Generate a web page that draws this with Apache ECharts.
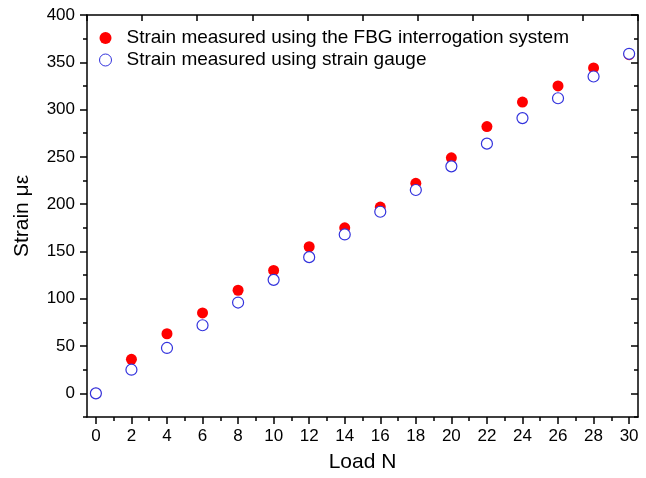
<!DOCTYPE html>
<html>
<head>
<meta charset="utf-8">
<script src="https://cdn.jsdelivr.net/npm/echarts@6/dist/echarts.min.js"></script>
<style>html,body{margin:0;padding:0;background:#fff;}#c{width:646px;height:478px;}</style>
</head>
<body>
<div id="c"></div>
<script>
const loads = [0, 2, 4, 6, 8, 10, 12, 14, 16, 18, 20, 22, 24, 26, 28, 30];
const fbgStrain = [0, 36, 63, 85, 109, 130, 155, 175, 197, 222, 249, 282, 308, 325, 344, 358];
const gaugeStrain = [0, 25, 48, 72, 96, 120, 144, 168, 192, 215, 240, 264, 291, 312, 335, 359];
const xMajorTicks = [0, 2, 4, 6, 8, 10, 12, 14, 16, 18, 20, 22, 24, 26, 28, 30];
const xMinorTicks = [1, 3, 5, 7, 9, 11, 13, 15, 17, 19, 21, 23, 25, 27, 29];
const yMajorTicks = [0, 50, 100, 150, 200, 250, 300, 350, 400];
const yMinorTicks = [-25, 25, 75, 125, 175, 225, 275, 325, 375];
const seriesNames = ['Strain measured using the FBG interrogation system', 'Strain measured using strain gauge'];

const FONT = 'Liberation Sans, Arial, sans-serif';
const lineStyle = { color: '#000', width: 1.5 };

const chart = echarts.init(document.getElementById('c'));
chart.setOption({
  animation: false,
  backgroundColor: '#fff',
  grid: { left: 87, right: 8, top: 15, bottom: 57, containLabel: false },
  legend: {
    left: 94, top: 23, orient: 'vertical', itemWidth: 12, itemHeight: 12, itemGap: 2,
    textStyle: { fontFamily: FONT, fontSize: 19, color: '#000', lineHeight: 20, padding: [0, 0, 0, 10] },
    data: [
      { name: seriesNames[0], icon: 'circle' },
      { name: seriesNames[1], icon: 'circle', itemStyle: { borderWidth: 1 } }
    ]
  },
  xAxis: [
    {
      type: 'value', position: 'bottom', min: -0.5, max: 30.5,
      axisLine: { show: true, onZero: false, lineStyle: lineStyle },
      axisTick: { show: true, inside: false, length: 7, lineStyle: lineStyle, customValues: xMajorTicks },
      axisLabel: { show: true, margin: 11, fontFamily: FONT, fontSize: 17, color: '#000', customValues: xMajorTicks },
      splitLine: { show: false },
      name: 'Load N', nameLocation: 'middle', nameGap: 35,
      nameTextStyle: { fontFamily: FONT, fontSize: 21, color: '#000' }
    },
    {
      type: 'value', position: 'bottom', min: -0.5, max: 30.5,
      axisLine: { show: false, onZero: false },
      axisTick: { show: true, inside: false, length: 4, lineStyle: lineStyle, customValues: xMinorTicks },
      axisLabel: { show: false },
      splitLine: { show: false }
    },
    {
      type: 'value', position: 'top', min: 0, max: 10, interval: 1,
      axisLine: { show: true, onZero: false, lineStyle: lineStyle },
      axisTick: { show: true, inside: true, length: 6, lineStyle: lineStyle },
      axisLabel: { show: false },
      splitLine: { show: false }
    }
  ],
  yAxis: [
    {
      type: 'value', position: 'left', min: -25, max: 400,
      axisLine: { show: true, onZero: false, lineStyle: lineStyle },
      axisTick: { show: true, inside: false, length: 7, lineStyle: lineStyle, customValues: yMajorTicks },
      axisLabel: { show: true, margin: 12, fontFamily: FONT, fontSize: 17, color: '#000', customValues: yMajorTicks },
      splitLine: { show: false },
      name: 'Strain \u03bc\u03b5', nameLocation: 'middle', nameGap: 54,
      nameTextStyle: { fontFamily: FONT, fontSize: 21, color: '#000' }
    },
    {
      type: 'value', position: 'left', min: -25, max: 400,
      axisLine: { show: false, onZero: false },
      axisTick: { show: true, inside: false, length: 4, lineStyle: lineStyle, customValues: yMinorTicks },
      axisLabel: { show: false },
      splitLine: { show: false }
    },
    {
      type: 'value', position: 'right', min: -25, max: 400,
      axisLine: { show: true, onZero: false, lineStyle: lineStyle },
      axisTick: { show: true, inside: true, length: 7, lineStyle: lineStyle, customValues: yMajorTicks },
      axisLabel: { show: false },
      splitLine: { show: false }
    },
    {
      type: 'value', position: 'right', min: -25, max: 400,
      axisLine: { show: false, onZero: false },
      axisTick: { show: true, inside: true, length: 4, lineStyle: lineStyle, customValues: yMinorTicks },
      axisLabel: { show: false },
      splitLine: { show: false }
    }
  ],
  series: [
    {
      name: seriesNames[0], type: 'scatter', xAxisIndex: 0, yAxisIndex: 0,
      symbol: 'circle', symbolSize: 11,
      itemStyle: { color: '#ff0000', opacity: 1 },
      data: loads.map((x, i) => [x, fbgStrain[i]]),
      z: 2
    },
    {
      name: seriesNames[1], type: 'scatter', xAxisIndex: 0, yAxisIndex: 0,
      symbol: 'circle', symbolSize: 11,
      itemStyle: { color: '#ffffff', borderColor: '#3333dd', borderWidth: 1.2, opacity: 1 },
      data: loads.map((x, i) => [x, gaugeStrain[i]]),
      z: 3
    }
  ]
});
</script>
</body>
</html>
